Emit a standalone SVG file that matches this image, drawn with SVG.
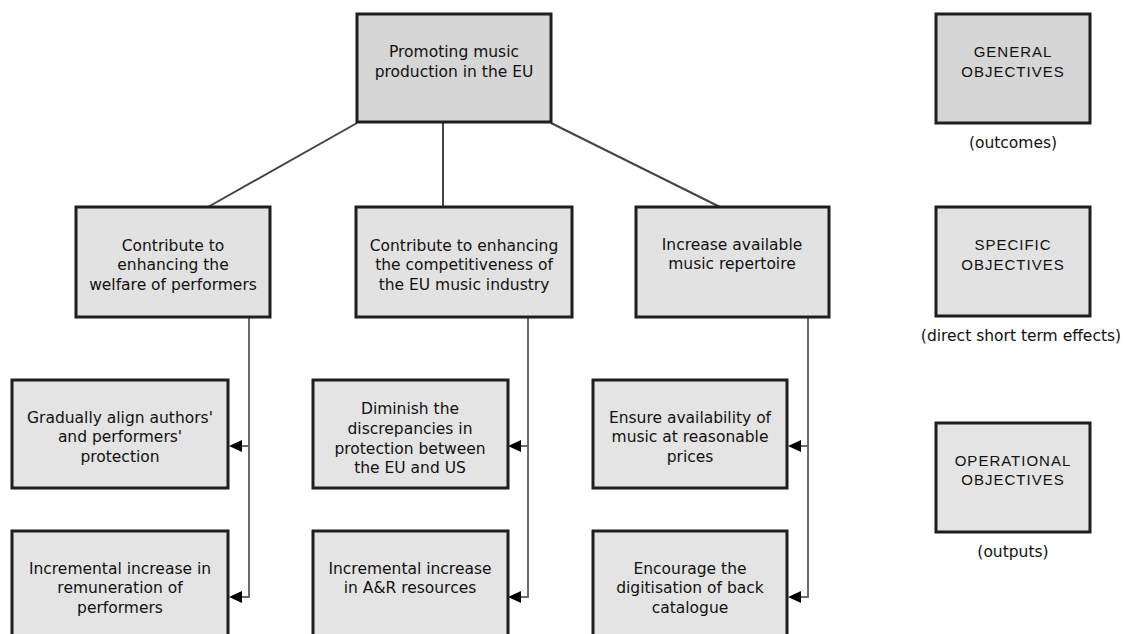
<svg xmlns="http://www.w3.org/2000/svg" width="1124" height="634" viewBox="0 0 1124 634">
<defs>
<style>
.box{stroke:#1e1e1e;stroke-width:3}
.gen{fill:#d6d6d6}
.spec{fill:#e2e2e2}
.op{fill:#e4e4e4}
.t{font-family:"DejaVu Sans",sans-serif;font-size:15.5px;fill:#111;text-anchor:middle}
.lg{font-family:"Liberation Sans",Arial,sans-serif;font-size:15px;letter-spacing:1px;fill:#111;text-anchor:middle}
.con{fill:none;stroke:#444;stroke-width:2}
.vcon{fill:none;stroke:#6a6a6a;stroke-width:2}
</style>
<marker id="arr" viewBox="0 0 12 12" refX="12" refY="6" markerWidth="12" markerHeight="12" markerUnits="userSpaceOnUse" orient="auto">
<path d="M0,0 L12,6 L0,12 Z" fill="#000"/>
</marker>
</defs>
<rect width="1124" height="634" fill="#fff"/>

<g id="connectors">
<line class="con" x1="357" y1="123" x2="208" y2="207"/>
<line class="con" x1="443" y1="123" x2="443" y2="207"/>
<line class="con" x1="551" y1="123" x2="720" y2="207"/>
<path class="vcon" d="M249,318 V597 H240"/>
<path class="vcon" d="M249,446 H240"/>
<path class="vcon" d="M528,318 V597 H519"/>
<path class="vcon" d="M528,446 H519"/>
<path class="vcon" d="M808,318 V597 H799"/>
<path class="vcon" d="M808,446 H799"/>
<path d="M229,446 L242,440 L242,452 Z"/>
<path d="M229,597 L242,591 L242,603 Z"/>
<path d="M508,446 L521,440 L521,452 Z"/>
<path d="M508,597 L521,591 L521,603 Z"/>
<path d="M788,446 L801,440 L801,452 Z"/>
<path d="M788,597 L801,591 L801,603 Z"/>
</g>

<g id="general">
<rect class="box gen" x="357" y="14" width="194" height="108"/>
<text class="t" x="454" y="57">Promoting music</text>
<text class="t" x="454" y="77">production in the EU</text>
</g>

<g id="spec1">
<rect class="box spec" x="76" y="207" width="194" height="110"/>
<text class="t" x="173" y="251">Contribute to</text>
<text class="t" x="173" y="270">enhancing the</text>
<text class="t" x="173" y="290">welfare of performers</text>
</g>
<g id="spec2">
<rect class="box spec" x="356" y="207" width="216" height="110"/>
<text class="t" x="464" y="251">Contribute to enhancing</text>
<text class="t" x="464" y="270">the competitiveness of</text>
<text class="t" x="464" y="290">the EU music industry</text>
</g>
<g id="spec3">
<rect class="box spec" x="636" y="207" width="193" height="110"/>
<text class="t" x="732" y="250">Increase available</text>
<text class="t" x="732" y="269">music repertoire</text>
</g>

<g id="op1">
<rect class="box op" x="12" y="380" width="216" height="108"/>
<text class="t" x="120" y="423">Gradually align authors'</text>
<text class="t" x="120" y="442">and performers'</text>
<text class="t" x="120" y="462">protection</text>
</g>
<g id="op2">
<rect class="box op" x="12" y="531" width="216" height="120"/>
<text class="t" x="120" y="574">Incremental increase in</text>
<text class="t" x="120" y="593">remuneration of</text>
<text class="t" x="120" y="613">performers</text>
</g>
<g id="op3">
<rect class="box op" x="313" y="380" width="195" height="108"/>
<text class="t" x="410" y="414">Diminish the</text>
<text class="t" x="410" y="434">discrepancies in</text>
<text class="t" x="410" y="454">protection between</text>
<text class="t" x="410" y="473">the EU and US</text>
</g>
<g id="op4">
<rect class="box op" x="313" y="531" width="195" height="120"/>
<text class="t" x="410" y="574">Incremental increase</text>
<text class="t" x="410" y="593">in A&amp;R resources</text>
</g>
<g id="op5">
<rect class="box op" x="593" y="380" width="194" height="108"/>
<text class="t" x="690" y="423">Ensure availability of</text>
<text class="t" x="690" y="442">music at reasonable</text>
<text class="t" x="690" y="462">prices</text>
</g>
<g id="op6">
<rect class="box op" x="593" y="531" width="194" height="120"/>
<text class="t" x="690" y="574">Encourage the</text>
<text class="t" x="690" y="593">digitisation of back</text>
<text class="t" x="690" y="613">catalogue</text>
</g>

<g id="legend-general">
<rect class="box gen" x="936" y="14" width="154" height="109"/>
<text class="lg" x="1013" y="57">GENERAL</text>
<text class="lg" x="1013" y="77">OBJECTIVES</text>
<text class="t" x="1013" y="148">(outcomes)</text>
</g>
<g id="legend-specific">
<rect class="box spec" x="936" y="207" width="154" height="109"/>
<text class="lg" x="1013" y="250">SPECIFIC</text>
<text class="lg" x="1013" y="270">OBJECTIVES</text>
<text class="t" x="1021" y="341">(direct short term effects)</text>
</g>
<g id="legend-operational">
<rect class="box op" x="936" y="423" width="154" height="109"/>
<text class="lg" x="1013" y="466">OPERATIONAL</text>
<text class="lg" x="1013" y="485">OBJECTIVES</text>
<text class="t" x="1013" y="557">(outputs)</text>
</g>
</svg>
